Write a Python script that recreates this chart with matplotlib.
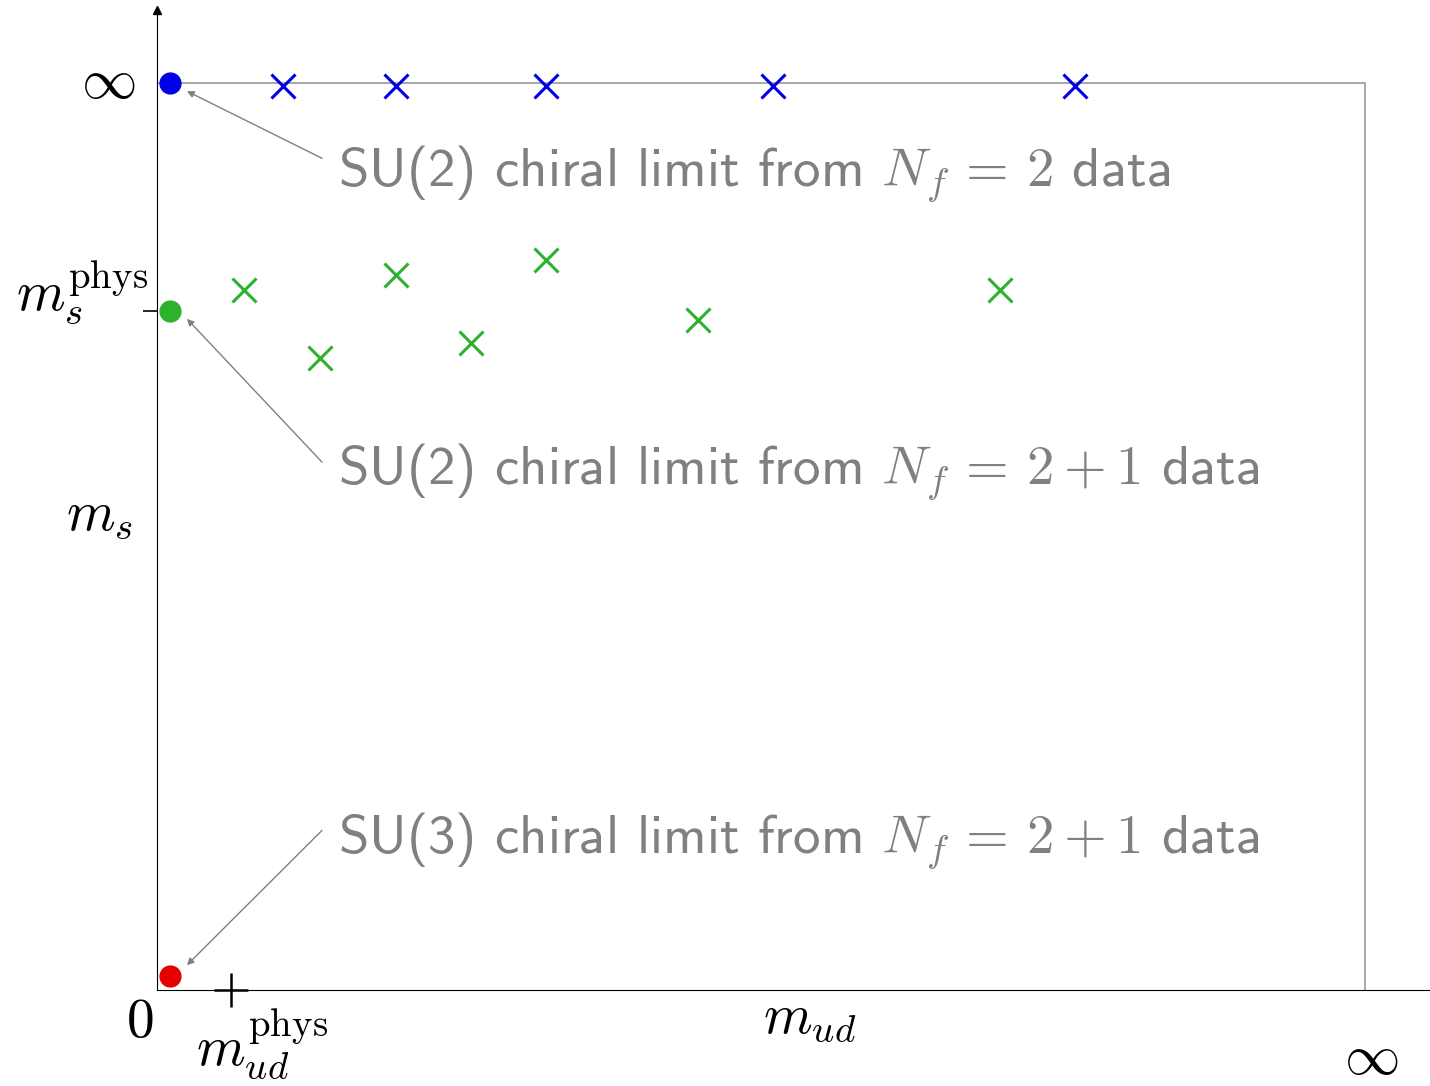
import os
import numpy as np
import matplotlib
matplotlib.use("Agg")
import matplotlib.pyplot as plt
from matplotlib.font_manager import FontProperties

plt.rcParams['mathtext.fontset'] = 'cm'

# --- data (x: m_ud, y: m_s; 1.0 stands for infinity) ---
ms_phys = 0.749
mud_phys = 0.061
chiral_x = 0.011

blue_x = [0.104, 0.198, 0.322, 0.510, 0.760]
blue_y = [0.997, 0.997, 0.997, 0.997, 0.997]

green_x = [0.072, 0.135, 0.198, 0.260, 0.322, 0.448, 0.698]
green_y = [0.772, 0.697, 0.788, 0.713, 0.805, 0.739, 0.772]

dots_y = [1.0, ms_phys, 0.0154]
dots_c = ['#0000e6', '#2eb22e', '#e60000']

labels = [r'SU(2) chiral limit from $N_f\,=\,2$ data',
          r'SU(2) chiral limit from $N_f\,=\,2+1$ data',
          r'SU(3) chiral limit from $N_f\,=\,2+1$ data']
label_y = [0.8875, 0.559, 0.153]
arrow_start_y = [0.917, 0.582, 0.176]

# Computer Modern sans shipped with matplotlib
cmss = FontProperties(fname=os.path.join(matplotlib.get_data_path(), 'fonts', 'ttf', 'cmss10.ttf'),
                      size=39.5)

W, H = 1430, 1086
fig = plt.figure(figsize=(W / 100, H / 100), dpi=100)
ax = fig.add_axes([157 / W, (H - 990) / H, (W - 157) / W, (990 - 10) / H])
ax.set_xlim(0, (W - 157) / 1208)
ax.set_ylim(0, (990 - 10) / 907)

for s in ['top', 'right']:
    ax.spines[s].set_visible(False)
for s in ['left', 'bottom']:
    ax.spines[s].set_linewidth(0.8)
    ax.spines[s].set_color('black')

ax.set_xticks([])
ax.set_yticks([ms_phys])
ax.set_yticklabels([''])
ax.tick_params(axis='y', direction='out', length=10, width=1.2)

# arrow head on the vertical axis
ax.plot([0], [1], marker='^', ms=6, color='black', transform=ax.transAxes, clip_on=False)

# gray box to infinity
ax.plot([0, 1, 1], [1, 1, 0], color='#a0a0a0', lw=1.3, zorder=1)

# physical m_ud marker
ax.plot([mud_phys], [0], marker='+', ms=25, mew=1.8, color='black', clip_on=False, zorder=5)

ax.plot(blue_x, blue_y, 'x', ms=17, mew=2.2, color=dots_c[0], clip_on=False)
ax.plot(green_x, green_y, 'x', ms=17, mew=2.2, color=dots_c[1], clip_on=False)
for yv, c in zip(dots_y, dots_c):
    ax.plot([chiral_x], [yv], 'o', ms=15, color=c, clip_on=False, zorder=6)

gray = '#808080'
for lab, ly, ay, dy in zip(labels, label_y, arrow_start_y, dots_y):
    ax.annotate('', xy=(chiral_x + 0.0138, dy + (-0.009 if dy > 0.5 else 0.012)),
                xytext=(0.1366, ay),
                arrowprops=dict(arrowstyle='-|>', color=gray, lw=1.0,
                                mutation_scale=10, shrinkA=0, shrinkB=0))
    ax.text(0.15, ly, lab, color=gray, fontproperties=cmss, ha='left', va='baseline')

fs = 40
ax.text(-0.0406, 1.0, r'$\infty$', fontsize=fs, ha='center', va='center')
ax.text(-9 / 1208, (990 - 310) / 907, r'$m_s^{\rm phys}$', fontsize=fs, ha='right', va='baseline')
ax.text(-57 / 1208, (990 - 530) / 907, r'$m_s$', fontsize=fs, ha='center', va='baseline')
ax.text(-17 / 1208, (990 - 1037) / 907, r'$0$', fontsize=fs, ha='center', va='baseline')
ax.text(105 / 1208, (990 - 1065) / 907, r'$m_{ud}^{\rm phys}$', fontsize=fs, ha='center', va='baseline')
ax.text(653 / 1208, (990 - 1033) / 907, r'$m_{ud}$', fontsize=fs, ha='center', va='baseline')
ax.text(1214 / 1208, (990 - 1074) / 907, r'$\infty$', fontsize=fs, ha='center', va='baseline')

fig.savefig('out.png', dpi=100)
